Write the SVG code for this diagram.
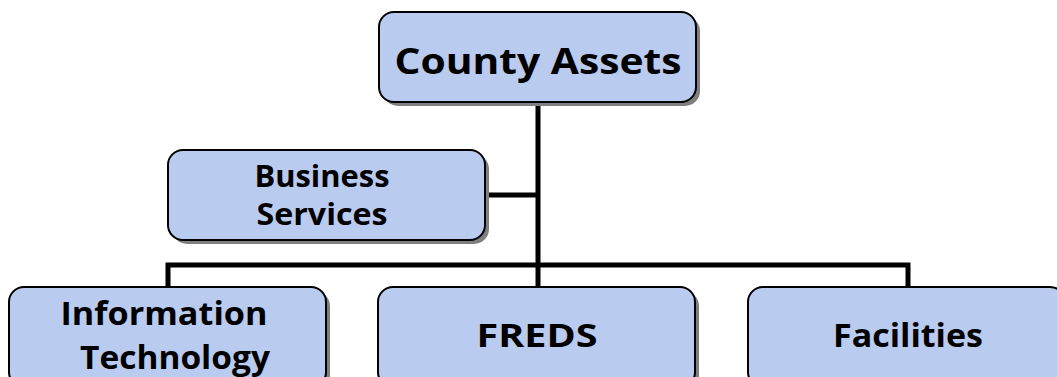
<svg xmlns="http://www.w3.org/2000/svg" width="1057" height="377" viewBox="0 0 1057 377">
<defs>
<style>
.box{fill:#BACBF0;stroke:#000;stroke-width:2}
.sh{fill:#7f7f7f}
.t{font-family:"Open Sans",Lato,"DejaVu Sans",sans-serif;font-weight:bold;fill:#000;text-anchor:middle}
.ln{stroke:#000;stroke-width:5;fill:none}
</style>
</defs>
<rect width="1057" height="377" fill="#fff"/>
<g id="connectors">
<line class="ln" x1="538" y1="102" x2="538" y2="266"/>
<line class="ln" x1="485" y1="195" x2="538" y2="195"/>
<polyline class="ln" points="168,288 168,265 908,265 908,288"/>
<line class="ln" x1="538" y1="265" x2="538" y2="288"/>
</g>
<g id="county-assets">
<rect class="sh" x="383" y="16" width="317" height="90" rx="15"/>
<rect class="box" x="379" y="12" width="317" height="90" rx="15"/>
<text class="t" x="538" y="74" font-size="35" textLength="287" lengthAdjust="spacingAndGlyphs">County Assets</text>
</g>
<g id="business-services">
<rect class="sh" x="172" y="154" width="317" height="90" rx="15"/>
<rect class="box" x="168" y="150" width="317" height="90" rx="15"/>
<text class="t" x="322" y="187" font-size="30" textLength="135" lengthAdjust="spacingAndGlyphs">Business</text>
<text class="t" x="322" y="225" font-size="30" textLength="131" lengthAdjust="spacingAndGlyphs">Services</text>
</g>
<g id="information-technology">
<rect class="sh" x="13" y="291" width="317" height="100" rx="15"/>
<rect class="box" x="9" y="287" width="317" height="100" rx="15"/>
<text class="t" x="164" y="325" font-size="32" textLength="207" lengthAdjust="spacingAndGlyphs">Information</text>
<text class="t" x="175" y="369" font-size="32" textLength="190" lengthAdjust="spacingAndGlyphs">Technology</text>
</g>
<g id="freds">
<rect class="sh" x="382" y="291" width="317" height="100" rx="15"/>
<rect class="box" x="378" y="287" width="317" height="100" rx="15"/>
<text class="t" x="537" y="347" font-size="32" textLength="121" lengthAdjust="spacingAndGlyphs">FREDS</text>
</g>
<g id="facilities">
<rect class="sh" x="752" y="291" width="317" height="100" rx="15"/>
<rect class="box" x="748" y="287" width="317" height="100" rx="15"/>
<text class="t" x="908" y="347" font-size="32" textLength="150" lengthAdjust="spacingAndGlyphs">Facilities</text>
</g>
</svg>
